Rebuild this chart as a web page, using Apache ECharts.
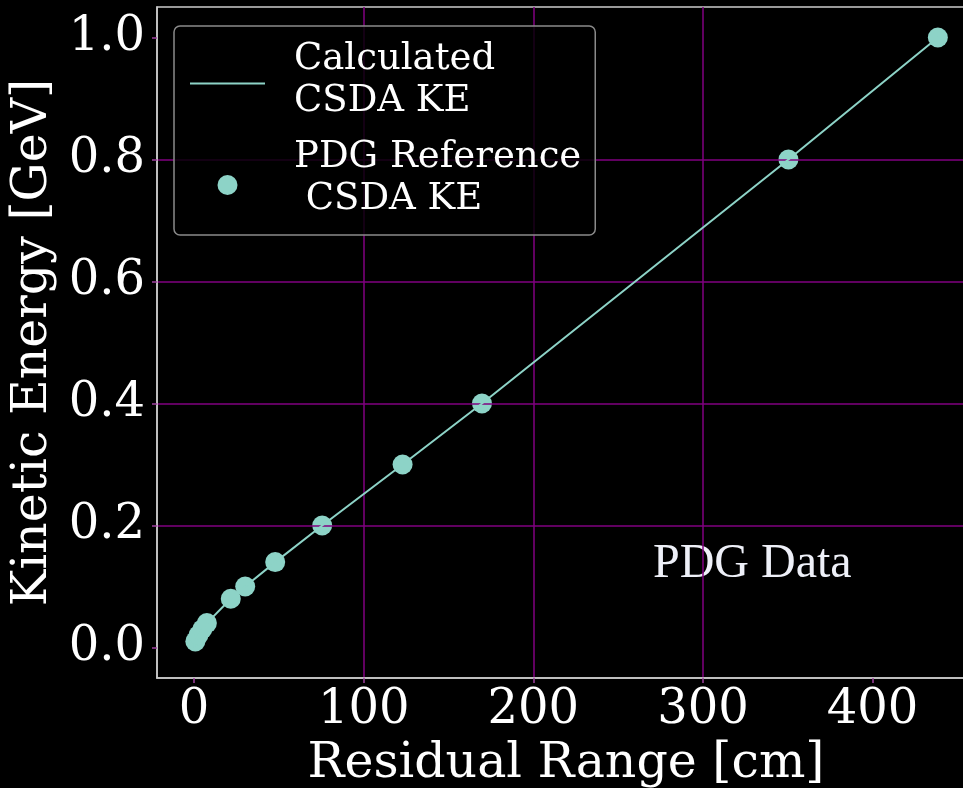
<!DOCTYPE html>
<html><head><meta charset="utf-8">
<script src="https://cdn.jsdelivr.net/npm/echarts@6/dist/echarts.min.js"></script>
<style>html,body{margin:0;padding:0;background:#000;}#c{width:963px;height:788px;}</style>
</head><body><div id="c"></div>
<script>
// PDG reference points (residual range in cm, kinetic energy in GeV)
const pdgRange = [0.7, 2.5, 4.8, 7.5, 21.6, 30.1, 47.8, 75.5, 122.9, 169.7, 350.4, 438.5];
const pdgKE    = [0.01, 0.02, 0.03, 0.04, 0.08, 0.10, 0.14, 0.20, 0.30, 0.40, 0.80, 1.00];
// Calculated CSDA curve
const calcRange = [0, 0.7, 2.5, 4.8, 7.5, 21.6, 30.1, 47.8, 75.5, 122.9, 169.7, 350.4, 438.5];
const calcKE    = [0, 0.01, 0.02, 0.03, 0.04, 0.08, 0.10, 0.14, 0.20, 0.30, 0.40, 0.80, 1.00];
// Tick labels
const xTicks = [0, 100, 200, 300, 400];
const yTicks = [0, 0.2, 0.4, 0.6, 0.8, 1.0];
const seriesNames = ['Calculated CSDA KE', 'PDG Reference CSDA KE'];
const legendLines = [['Calculated', 'CSDA KE'], ['PDG Reference', ' CSDA KE']];
const annotation = 'PDG Data';

const FONT = 'DejaVu Serif';
const GRIDC = '#800080';
const TEAL = '#8dd3c7';

const chart = echarts.init(document.getElementById('c'), null, {renderer: 'canvas'});
chart.setOption({
  backgroundColor: '#000',
  animation: false,
  grid: {left: 157, top: 7, width: 818, height: 671, outerBoundsMode: 'none', containLabel: false,
         show: true, borderColor: '#cccccc', borderWidth: 1.5, backgroundColor: '#000'},
  xAxis: {
    type: 'value', min: -21.9, max: 460.4, z: 2,
    name: 'Residual Range [cm]', nameLocation: 'middle', nameGap: 56,
    nameTextStyle: {fontFamily: FONT, fontSize: 49, color: '#fff'},
    axisLine: {show: true, onZero: false, lineStyle: {color: '#cccccc', width: 1.5}},
    axisTick: {show: true, length: 5, customValues: xTicks, lineStyle: {color: '#a040a0', width: 1.5}},
    axisLabel: {customValues: xTicks, fontFamily: FONT, fontSize: 48, color: '#fff', margin: 9},
    splitLine: {show: true, showMinLine: false, showMaxLine: false, lineStyle: {color: GRIDC, width: 1.5}}
  },
  yAxis: {
    type: 'value', min: -0.05, max: 1.05, z: 2,
    name: 'Kinetic Energy [GeV]', nameLocation: 'middle', nameGap: 87,
    nameTextStyle: {fontFamily: FONT, fontSize: 49, color: '#fff'},
    axisLine: {show: true, onZero: false, lineStyle: {color: '#cccccc', width: 1.5}},
    axisTick: {show: true, length: 5, customValues: yTicks, lineStyle: {color: '#a040a0', width: 1.5}},
    axisLabel: {customValues: yTicks, fontFamily: FONT, fontSize: 48, color: '#fff', margin: 12,
      formatter: v => Number(v).toFixed(1)},
    splitLine: {show: true, showMinLine: false, showMaxLine: false, lineStyle: {color: GRIDC, width: 1.5}}
  },
  legend: {
    orient: 'vertical', left: 174, top: 26, z: 10,
    padding: [12.5, 14, 1.5, 15], itemGap: 8, itemWidth: 75, itemHeight: 20,
    backgroundColor: 'rgba(0,0,0,0.8)', borderColor: '#8a8a8a', borderWidth: 1.5, borderRadius: 6,
    formatter: name => {
      const i = seriesNames.indexOf(name);
      const l = legendLines[i];
      return '{t|' + l[0] + '}\n{t|' + l[1] + '}\n{' + (i === 0 ? 's1' : 's2') + '| }';
    },
    textStyle: {
      fontFamily: FONT, fontSize: 37, color: '#fff', lineHeight: 42,
      rich: {
        t: {fontFamily: FONT, fontSize: 37, color: '#fff', lineHeight: 42, padding: [0, 0, 0, 24]},
        s1: {fontSize: 1, lineHeight: 6},
        s2: {fontSize: 1, lineHeight: 13}
      }
    },
    data: [
      {name: seriesNames[0], itemStyle: {opacity: 0, color: 'transparent', borderWidth: 0},
       lineStyle: {color: TEAL, width: 2, opacity: 1}},
      {name: seriesNames[1], icon: 'circle'}
    ]
  },
  graphic: [{
    type: 'text', left: 653, top: 548 - 8, z: 0,
    style: {text: annotation, font: '48px "Liberation Serif"', fill: '#eef0f8'}
  }],
  series: [
    {
      name: seriesNames[0], type: 'line', z: 3, symbol: 'none', showSymbol: false,
      data: calcRange.map((x, i) => [x, calcKE[i]]),
      lineStyle: {color: TEAL, width: 2}, itemStyle: {color: TEAL}
    },
    {
      name: seriesNames[1], type: 'scatter', z: 1, symbol: 'circle', symbolSize: 20,
      data: pdgRange.map((x, i) => [x, pdgKE[i]]),
      itemStyle: {color: TEAL, opacity: 1}
    }
  ]
});
</script>
</body></html>
